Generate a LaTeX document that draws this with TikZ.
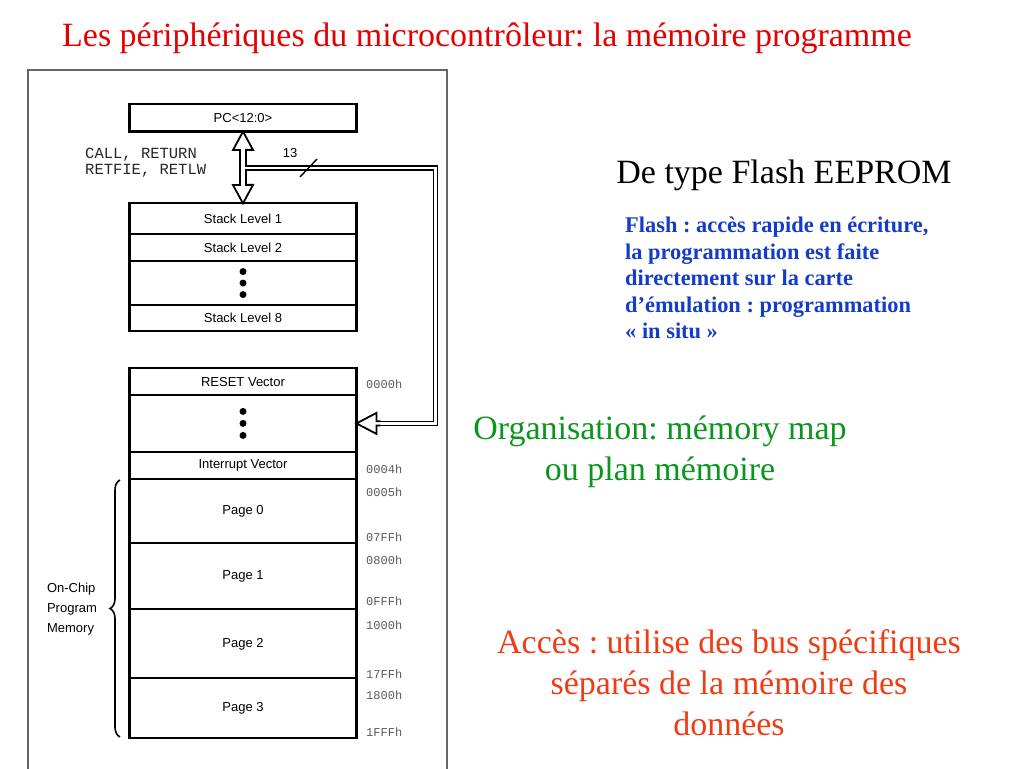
\documentclass[tikz,border=0pt]{standalone}
\usepackage{fontspec}
\setmainfont{Liberation Serif}
\setsansfont{Liberation Sans}
\setmonofont{Liberation Mono}
\usepackage{tikz}
\usetikzlibrary{positioning,calc,decorations.pathreplacing}
\definecolor{titlered}{RGB}{228,0,0}
\definecolor{flashblue}{RGB}{20,60,200}
\definecolor{orggreen}{RGB}{10,150,30}
\definecolor{accesorange}{RGB}{240,60,20}
\frenchspacing

\begin{document}
\begin{tikzpicture}[x=1pt,y=-1pt,
  cell/.style={draw, line width=2.2pt, minimum width=227pt, outer sep=0pt, inner sep=0pt, font=\fontsize{13}{15}\selectfont\sffamily},
  addr/.style={anchor=west, inner sep=0pt, font=\fontsize{12}{12}\selectfont\ttfamily, text=black!65},
  dot/.style={circle, fill, inner sep=0pt, minimum size=7pt},
  hollow/.style={line width=1.8pt, fill=white, line join=miter},
  pipe/.style={line width=1.5pt, double=white, double distance=2.6pt},
  big/.style={font=\fontsize{34}{41}\selectfont, inner sep=0pt}]
  \useasboundingbox (0,0) rectangle (1024,768);

  \node[big, anchor=base, text=titlered] (title) at (487,46) {Les périphériques du microcontrôleur: la mémoire programme};
  \draw[line width=1.4pt, black!60] (28,770) |- (447,70) -- (447,770);

  \node[cell, minimum height=27.5pt] (pc) at (243,117.8) {PC<12:0>};
  \node[cell, minimum height=30.7pt] (s1) at (243,218.7) {Stack Level 1};
  \node[cell, minimum height=27pt, below=0pt of s1] (s2) {Stack Level 2};
  \node[cell, minimum height=44pt, below=0pt of s2] (sdots) {};
  \node[cell, minimum height=25.7pt, below=0pt of sdots] (s8) {Stack Level 8};
  \foreach \i/\d in {1/-11.5,2/0,3/11.5}
    \node[dot] (sd\i) at ($(sdots.center)+(0,\d)$) {};

  \node[cell, minimum height=26.7pt] (reset) at (243,381.7) {RESET Vector};
  \node[cell, minimum height=56.7pt, below=0pt of reset] (mdots) {};
  \node[cell, minimum height=27.6pt, below=0pt of mdots] (irq) {Interrupt Vector};
  \node[cell, minimum height=64pt, below=0pt of irq] (p0) {Page 0};
  \node[cell, minimum height=66pt, below=0pt of p0] (p1) {Page 1};
  \node[cell, minimum height=69pt, below=0pt of p1] (p2) {Page 2};
  \node[cell, minimum height=59.4pt, below=0pt of p2] (p3) {Page 3};
  \foreach \i/\d in {1/-12,2/0,3/12}
    \node[dot] (md\i) at ($(mdots.center)+(0,\d)$) {};

  \foreach \a/\y in {0000h/384.3,0004h/469,0005h/492.3,07FFh/537.7,0800h/560,0FFFh/601.7,1000h/625.7,17FFh/674,1800h/695,1FFFh/732.3}
    \node[addr] (a-\a) at (366,\y) {\a};

  % push / pop between PC and stack
  \draw[hollow] (pc.south) -- ++(10,18.3) -- ++(-7,0) -- ++(0,35) -- ++(7,0) -- (s1.north)
    -- ++(-10,-18.3) -- ++(7,0) -- ++(0,-35) -- ++(-7,0) -- cycle;
  \node[anchor=west, align=left, inner sep=0pt, font=\fontsize{15.5}{16}\selectfont\ttfamily, text=black!85] (calls) at (85,163) {CALL, RETURN\\RETFIE, RETLW};

  % 13-bit bus to program memory
  \coordinate (bus) at (244.5,168);
  \draw[pipe] (bus) -| ($(mdots.east)+(79,0)$) -- ($(mdots.east)+(22,0)$);
  \draw[hollow] ($(mdots.east)+(24,-2.1)$) -- ++(-4,0) -- ++(0,-8.4) -- (mdots.east) -- ++(20,10.5) -- ++(0,-8.4) -- ++(4,0);
  \draw[line width=1.4pt] (bus) ++(55.5,9) -- ++(17,-18);
  \node[font=\fontsize{13}{15}\selectfont\sffamily] (width) at (290,153) {13};

  \coordinate (bb) at (120,737);
  \coordinate (bt) at (120,480);
  \draw[line width=1.6pt, decorate, decoration={brace, amplitude=10pt}] (bb) -- (bt);
  \node[align=left, font=\fontsize{13}{20}\selectfont\sffamily] (onchip) at (72,609) {On-Chip\\Program\\Memory};

  \node[big, anchor=base] (flash) at (784,183) {De type Flash EEPROM};
  \node[anchor=north west, align=left, inner sep=0pt, text=flashblue, font=\bfseries\fontsize{22.4}{26.5}\selectfont] (desc) at (625,217) {Flash : accès rapide en écriture,\\la programmation est faite\\directement sur la carte\\d’émulation : programmation\\« in situ »};
  \node[big, anchor=north, align=center, text=orggreen] (orga) at (660,416) {Organisation: mémory map\\ou plan mémoire};
  \node[big, anchor=north, align=center, text=accesorange] (acces) at (729,629) {Accès : utilise des bus spécifiques\\séparés de la mémoire des\\données};
\end{tikzpicture}
\end{document}
